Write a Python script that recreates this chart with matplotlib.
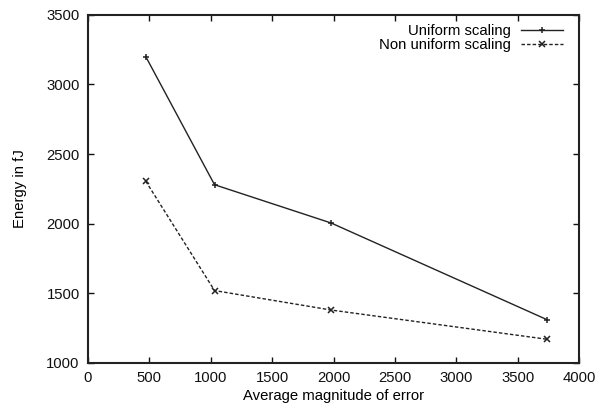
import matplotlib
matplotlib.use("Agg")
import matplotlib.pyplot as plt

plt.rcParams['font.family'] = ['Liberation Sans', 'DejaVu Sans']

error_x = [470, 1030, 1980, 3740]
uniform = [3200, 2280, 2005, 1310]
non_uniform = [2305, 1520, 1380, 1170]
x_ticks = [0, 500, 1000, 1500, 2000, 2500, 3000, 3500, 4000]
y_ticks = [1000, 1500, 2000, 2500, 3000, 3500]

fig = plt.figure(figsize=(5.99, 4.12), dpi=100)
ax = fig.add_axes([0.147, 0.119, 0.820, 0.845])

ax.plot(error_x, uniform, color='#222222', linestyle='-', linewidth=1.0,
        marker='+', markersize=5, markeredgewidth=1.1, label='Uniform scaling')
ax.plot(error_x, non_uniform, color='#222222', linestyle=(0, (2.5, 1.5)), linewidth=1.0,
        marker='x', markersize=4, markeredgewidth=1.1, label='Non uniform scaling')

ax.set_xlim(0, 4000)
ax.set_ylim(1000, 3500)
ax.set_xticks(x_ticks)
ax.set_yticks(y_ticks)
ax.tick_params(direction='in', top=True, right=True, length=4, width=1,
               labelsize=10.7, pad=6, colors='#111111')
for s in ax.spines.values():
    s.set_linewidth(1.5)
    s.set_color('#222222')

ax.set_xlabel('Average magnitude of error', fontsize=10.7, labelpad=3)
ax.set_ylabel('Energy in fJ', fontsize=10.7, labelpad=14)

ax.legend(loc='upper right', frameon=False, markerfirst=False, fontsize=10.7,
          handlelength=2.8, handletextpad=0.7, labelspacing=0.0,
          borderaxespad=0.2, bbox_to_anchor=(0.985, 1.0))

fig.savefig('out.png', dpi=100)
